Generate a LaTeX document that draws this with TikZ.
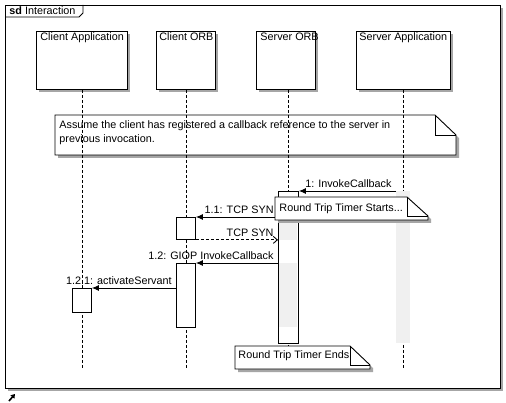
\documentclass[tikz,border=0pt]{standalone}
\usepackage{fontspec}
\setmainfont{Liberation Sans}
\usetikzlibrary{arrows.meta,shadows}

\tikzset{
  umlshadow/.style={drop shadow={shadow xshift=3pt,shadow yshift=-3pt,opacity=1,fill=black!35}},
  headbox/.style={draw,fill=white,anchor=north west,minimum height=58pt,inner sep=0pt,umlshadow},
  actbar/.style={draw,fill=white,anchor=north west,minimum width=19pt,inner sep=0pt},
  lifeline/.style={dash pattern=on 3pt off 2pt},
  msg/.style={-{Latex[length=7pt,width=6pt]}},
  msgreply/.style={dash pattern=on 3pt off 2pt,-{Straight Barb[length=4pt,width=7pt]}},
  msglabel/.style={anchor=base east,yshift=3.5pt,xshift=-4pt,inner sep=0pt},
  notebox/.style={draw,fill=white,umlshadow},
  txt/.style={anchor=base west,inner sep=0pt}
}

\begin{document}
\begin{tikzpicture}[x=1pt,y=-1pt,line width=0.9pt,font=\fontsize{10.8}{13.5}\selectfont]
\useasboundingbox (0,0) rectangle (506,403);

% frame
\draw[fill=white,umlshadow] (5,5) rectangle (500,388);
\draw (5,17) -- (79,17) -- (83,13) -- (83,5);
\node[txt] (title) at (9,15) {\textbf{sd} Interaction};

% lifeline heads
\node[headbox,minimum width=91pt] (ca) at (36,31) {};
\node[headbox,minimum width=59pt] (co) at (156,31) {};
\node[headbox,minimum width=59pt] (so) at (256,31) {};
\node[headbox,minimum width=94pt] (sa) at (356,31) {};
\node[txt] (catext) at (40,41) {Client Application};
\node[txt] (cotext) at (159,41) {Client ORB};
\node[txt] (sotext) at (260,41) {Server ORB};
\node[txt] (satext) at (359,41) {Server Application};

% note
\draw[notebox] (55,115) -- (435,115) -- (456,135) -- (456,155) -- (55,155) -- cycle;
\draw (435,115) |- (456,135);
\node[txt] (assume1) at (59,129) {Assume the client has registered a callback reference to the server in};
\node[txt] (assume2) at (59,142.5) {previous invocation.};

% lifelines
\coordinate (bottom) at (0,369);
\coordinate (sox) at (288,0);
\draw[lifeline] (ca.south) -- (ca.south |- bottom);
\draw[lifeline] (co.south) -- (co.south |- bottom);
\draw[lifeline] (so.south -| sox) -- (sox |- bottom);
\draw[lifeline] (sa.south) -- (sa.south |- bottom);

% activations
\node[actbar,minimum width=20pt,minimum height=152pt] (sobar) at (278,191) {};
\fill[gray!12] (279,220) rectangle (297,240);
\fill[gray!12] (279,263) rectangle (297,327);
\node[anchor=north west,fill=gray!12,minimum width=14pt,minimum height=152pt,inner sep=0pt] (sabar) at (396,191) {};
\node[actbar,minimum height=22pt] (cobar1) at (176,217) {};
\node[actbar,minimum height=64pt] (cobar2) at (176,263) {};
\node[actbar,minimum height=24pt] (cabar) at (72,288) {};

% messages
\draw[msg] (sabar.north west) -- (sobar.north east) node[msglabel,pos=0] {1: InvokeCallback};
\draw[msg] (sobar.west |- cobar1.north) -- (cobar1.north east) node[msglabel,pos=0] {1.1: TCP SYN};
\draw[msgreply] (cobar1.south east) -- (sobar.west |- cobar1.south) node[msglabel,pos=1] {TCP SYN};
\draw[msg] (sobar.west |- cobar2.north) -- (cobar2.north east) node[msglabel,pos=0] {1.2: GIOP InvokeCallback};
\draw[msg] (cobar2.north west |- cabar.north) -- (cabar.north east) node[msglabel,pos=0] {1.2.1: activateServant};

% timer notes
\draw[notebox] (275,197) -- (407,197) -- (428,216) -- (428,220) -- (275,220) -- cycle;
\draw (407,197) |- (428,216);
\node[txt] (rtstart) at (279,212) {Round Trip Timer Starts...};
\draw[notebox] (235,346) -- (350,346) -- (370,365) -- (370,369) -- (235,369) -- cycle;
\draw (350,346) |- (370,365);
\node[txt] (rtend) at (238,358) {Round Trip Timer Ends};

% corner mark
\draw[line width=1.6pt,-{Triangle[length=4pt,width=5pt]}] (9,401) -- (15,394);
\end{tikzpicture}
\end{document}
